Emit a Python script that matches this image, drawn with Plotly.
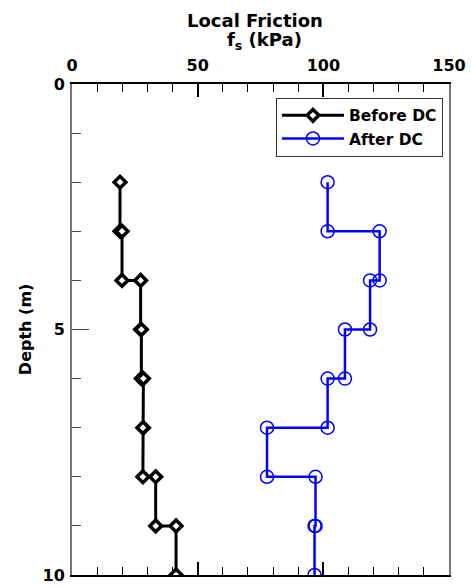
import plotly.graph_objects as go

# Data
before_fs = [19.1, 19.1, 19.9, 19.9, 27.3, 27.3, 27.6, 27.6, 28.4, 28.4, 28.2, 28.2, 33.3, 33.3, 41.4, 41.4]
before_depth = [2, 3, 3, 4, 4, 5, 5, 6, 6, 7, 7, 8, 8, 9, 9, 10]
after_fs = [101.7, 101.7, 122.4, 122.4, 118.6, 118.6, 108.6, 108.6, 101.7, 101.7, 77.6, 77.6, 96.9, 96.9, 96.5, 96.5]
after_depth = [2, 3, 3, 4, 4, 5, 5, 6, 6, 7, 7, 8, 8, 9, 9, 10]
x_ticks = [0, 50, 100, 150]
y_ticks = [0, 5, 10]

FONT = "DejaVu Sans"

fig = go.Figure()
fig.add_trace(go.Scatter(
    x=before_fs, y=before_depth, name="Before DC", mode="lines+markers",
    line=dict(color="black", width=3),
    marker=dict(symbol="diamond", size=9, color="white", line=dict(color="black", width=3.5)),
))
fig.add_trace(go.Scatter(
    x=after_fs, y=after_depth, name="After DC", mode="lines+markers",
    line=dict(color="#0000ff", width=2.5),
    marker=dict(symbol="circle-open", size=13, color="#0000ff", line=dict(color="#0000ff", width=1.5)),
))

fig.update_layout(
    width=473, height=588,
    margin=dict(l=72, r=24, t=84, b=13, autoexpand=False),
    paper_bgcolor="white", plot_bgcolor="white",
    font=dict(family=FONT, size=16, color="black", weight="bold"),
    showlegend=True,
    legend=dict(
        x=0.984, xanchor="right", y=0.972, yanchor="top",
        bgcolor="white", bordercolor="#333333", borderwidth=1,
        font=dict(family=FONT, size=15.5, color="black", weight="bold"),
        tracegroupgap=0, itemwidth=62,
    ),
    xaxis=dict(
        range=[0, 150], side="top", tickvals=x_ticks, automargin=False,
        ticks="inside", ticklen=13, tickwidth=1.5, tickcolor="black",
        minor=dict(ticks="inside", dtick=10, ticklen=8, tickwidth=1, tickcolor="black"),
        showline=True, linecolor="black", linewidth=1.5, mirror="ticks",
        showgrid=False, zeroline=False, ticklabelstandoff=5,
        tickfont=dict(family=FONT, size=16, color="black", weight="bold"),
    ),
    yaxis=dict(
        range=[10, 0], tickvals=y_ticks, automargin=False,
        ticks="inside", ticklen=17, tickwidth=1, tickcolor="#444444",
        minor=dict(ticks="inside", dtick=1, ticklen=9, tickwidth=1, tickcolor="#444444"),
        showline=True, linecolor="#777777", linewidth=2, mirror=True,
        showgrid=False, zeroline=False, ticklabelstandoff=2,
        tickfont=dict(family=FONT, size=16, color="black", weight="bold"),
    ),
    annotations=[
        dict(text="Local Friction", x=0.486, y=1.1303, xref="paper", yref="paper",
             xanchor="center", yanchor="middle", showarrow=False,
             font=dict(family=FONT, size=18, color="black", weight="bold")),
        dict(text="f<sub>s</sub> (kPa)", x=0.51, y=1.0876, xref="paper", yref="paper",
             xanchor="center", yanchor="middle", showarrow=False,
             font=dict(family=FONT, size=18, color="black", weight="bold")),
        dict(text="Depth (m)", x=-0.123, y=0.5, xref="paper", yref="paper",
             xanchor="center", yanchor="middle", showarrow=False, textangle=-90,
             font=dict(family=FONT, size=16, color="black", weight="bold")),
    ],
)

fig.write_html("out.html")
